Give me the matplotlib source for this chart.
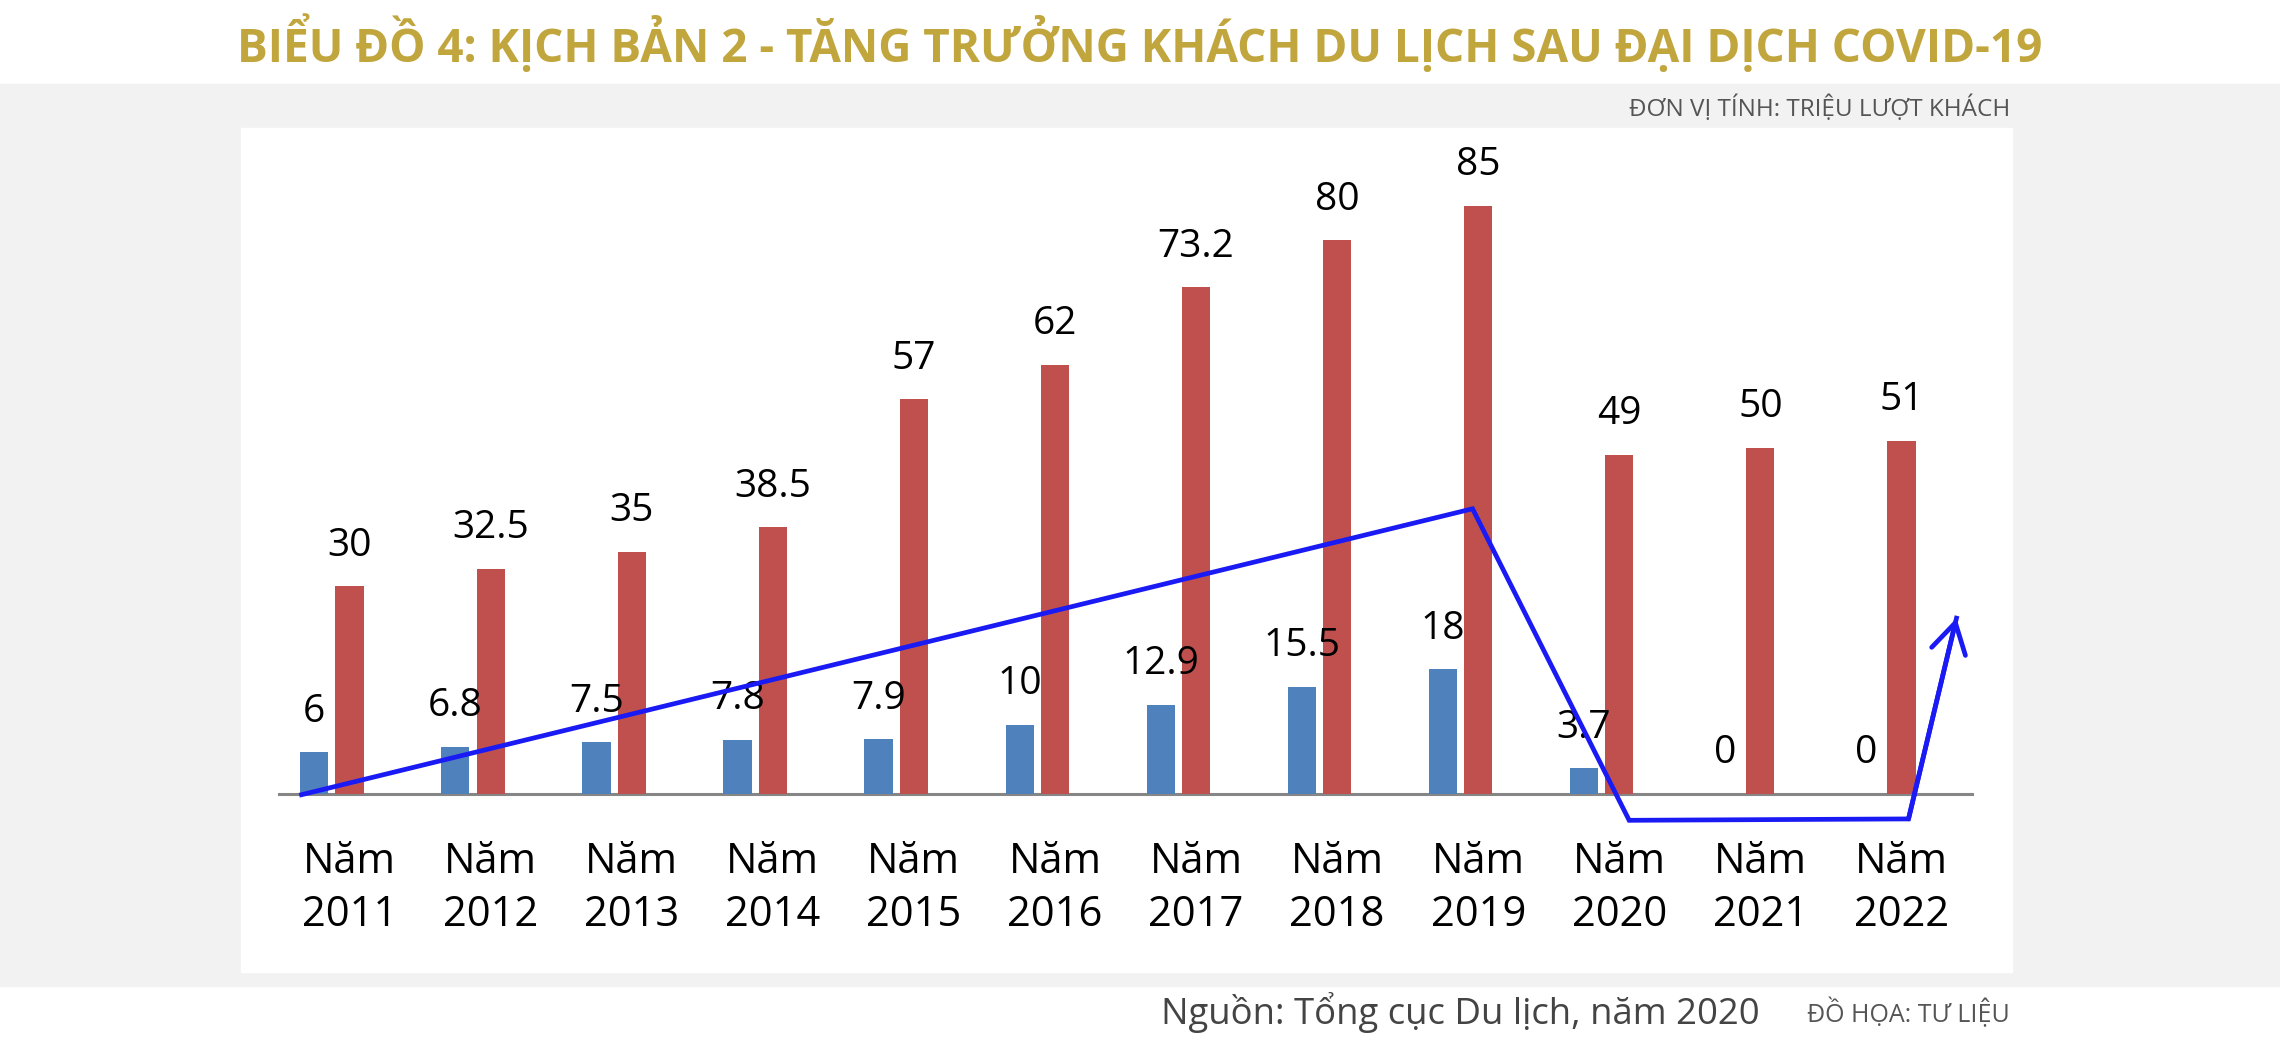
import matplotlib
matplotlib.use("Agg")
import matplotlib.pyplot as plt
from matplotlib.patches import Rectangle

plt.rcParams['font.family'] = ['Open Sans', 'DejaVu Sans']

# data (triệu lượt khách)
years = [2011, 2012, 2013, 2014, 2015, 2016, 2017, 2018, 2019, 2020, 2021, 2022]
khach_quoc_te = [6, 6.8, 7.5, 7.8, 7.9, 10, 12.9, 15.5, 18, 3.7, 0, 0]
khach_noi_dia = [30, 32.5, 35, 38.5, 57, 62, 73.2, 80, 85, 49, 50, 51]
# hand-drawn trend arrow (data coords)
trend_x = [-0.34, 7.96, 9.07, 11.05, 11.39]
trend_y = [-0.1, 41.2, -3.8, -3.6, 25.4]

W, H = 2280, 1046
fig = plt.figure(figsize=(W / 100, H / 100), dpi=100)
fig.patch.set_facecolor('white')

# background bands
bg = fig.add_axes([0, 0, 1, 1], zorder=-1)
bg.set_xlim(0, W)
bg.set_ylim(H, 0)
bg.axis('off')
bg.add_patch(Rectangle((0, 84), W, 986 - 84, color='#f2f2f2'))
bg.add_patch(Rectangle((241, 128), 2012 - 241, 972 - 128, color='white'))

ax = fig.add_axes([279 / W, (H - 794) / H, (1972 - 279) / W, 666 / H], zorder=1)
ax.set_facecolor('none')

x = list(range(len(years)))
bw = 0.2
xb = [i - 0.25 for i in x]
ax.bar(xb, khach_quoc_te, width=bw, color='#4f81bd', zorder=2)
ax.bar(x, khach_noi_dia, width=bw, color='#c0504d', zorder=2)

for xi, v in zip(xb, khach_quoc_te):
    ax.annotate(f'{v:g}', (xi, v), xytext=(0, 22), textcoords='offset points',
                ha='center', va='baseline', fontsize=28, color='black')
for xi, v in zip(x, khach_noi_dia):
    ax.annotate(f'{v:g}', (xi, v), xytext=(0, 22), textcoords='offset points',
                ha='center', va='baseline', fontsize=28, color='black')

ax.plot(trend_x, trend_y, color='#1a1af5', lw=3.4, clip_on=False, zorder=3,
        solid_joinstyle='miter')
ax.annotate('', xy=(trend_x[-1], trend_y[-1]), xytext=(trend_x[-2], trend_y[-2]),
            arrowprops=dict(arrowstyle='->,head_length=0.85,head_width=0.5',
                            color='#1a1af5', lw=3.4, mutation_scale=25,
                            shrinkA=0, shrinkB=0),
            annotation_clip=False, zorder=3)

ax.set_xlim(-0.5, 11.5)
ax.set_ylim(0, 96.2)
ax.set_xticks(x)
ax.set_xticklabels([f'Năm\n{y}' for y in years], fontsize=30, linespacing=1.33)
ax.tick_params(axis='x', length=0, pad=34)
ax.set_yticks([])
for s in ['top', 'right', 'left']:
    ax.spines[s].set_visible(False)
ax.spines['bottom'].set_color('#868686')
ax.spines['bottom'].set_linewidth(2.2)
ax.spines['bottom'].set_zorder(1)

fig.text(0.5, 1 - 44 / H, 'BIỂU ĐỒ 4: KỊCH BẢN 2 - TĂNG TRƯỞNG KHÁCH DU LỊCH SAU ĐẠI DỊCH COVID-19',
         ha='center', va='center', fontsize=33, fontweight='bold', color='#c1a53d')
fig.text(2010 / W, 1 - 109 / H, 'ĐƠN VỊ TÍNH: TRIỆU LƯỢT KHÁCH',
         ha='right', va='center', fontsize=17.5, color='#555555')
fig.text(1760 / W, 1 - 1013 / H, 'Nguồn: Tổng cục Du lịch, năm 2020',
         ha='right', va='center', fontsize=26.3, color='#444444')
fig.text(2010 / W, 1 - 1013 / H, 'ĐỒ HỌA: TƯ LIỆU',
         ha='right', va='center', fontsize=18, color='#555555')

fig.savefig('out.png', dpi=100)
